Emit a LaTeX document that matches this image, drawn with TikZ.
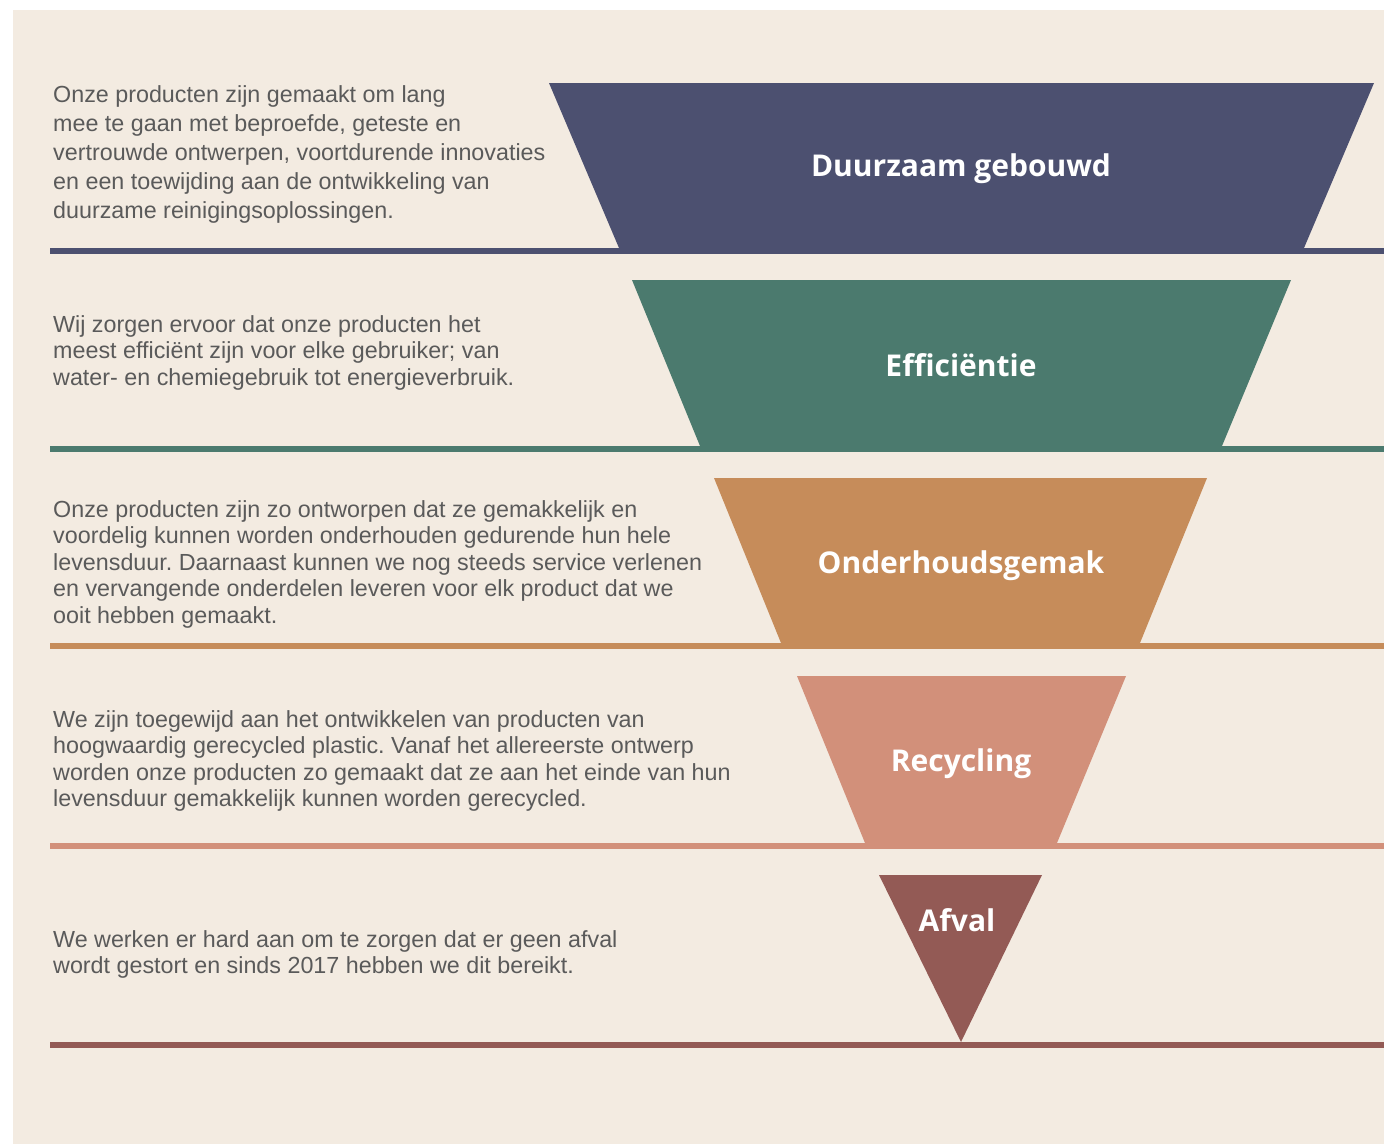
\documentclass[tikz,border=0pt]{standalone}
\usepackage{fontspec}
\setmainfont{Liberation Sans}
\newfontfamily\titlefont{Open Sans}
\frenchspacing
\definecolor{paper}{HTML}{F3EBE1}
\definecolor{bodytext}{HTML}{5A5A5A}
\definecolor{bandA}{HTML}{4C5070}
\definecolor{bandB}{HTML}{4B7A6E}
\definecolor{bandC}{HTML}{C68C5A}
\definecolor{bandD}{HTML}{D2907A}
\definecolor{bandE}{HTML}{935A55}

\begin{document}
\begin{tikzpicture}[x=1pt,y=-1pt,
    title/.style={text=white,anchor=base,font=\titlefont\bfseries\fontsize{30}{34}\selectfont,inner sep=0pt},
    desc/.style={text=bodytext,anchor=north west,align=left,inner sep=0pt,font=\fontsize{23.3}{26.6}\selectfont},
    rule/.style={line width=6pt}]
                \useasboundingbox (0,0) rectangle (1384,1144);
                \fill[white] (0,0) rectangle (1384,1144);
                \fill[paper] (13,10) rectangle (1384,1144);
                % funnel bands
                \fill[bandA] (549,83)--(1374,83)--(1304,248)--(619,248)--cycle;
                \fill[bandB] (632,280)--(1291,280)--(1222,446)--(700,446)--cycle;
                \fill[bandC] (714,478)--(1207,478)--(1140,643)--(781,643)--cycle;
                \fill[bandD] (797,676)--(1126,676)--(1057,843)--(865,843)--cycle;
                \fill[bandE] (879,875)--(1042,875)--(961,1042)--cycle;
                % rules under each band
                \draw[rule,bandA] (50,251)--(1384,251);
                \draw[rule,bandB] (50,449)--(1384,449);
                \draw[rule,bandC] (50,645.5)--(1384,645.5);
                \draw[rule,bandD] (50,846)--(1384,846);
                \draw[rule,bandE] (50,1045)--(1384,1045);
                % titles
                \node[title] (duurzaam) at (961,176) {Duurzaam gebouwd};
                \node[title] (efficientie) at (961,376) {Efficiëntie};
                \node[title] (onderhoud) at (961,573) {Onderhoudsgemak};
                \node[title] (recycling) at (961,771) {Recycling};
                \node[title] (afval) at (957,931) {Afval};
                % descriptions
                \node[desc,font=\fontsize{23.3}{29}\selectfont] (duurzaamtxt) at (53,85) {Onze producten zijn gemaakt om lang\\mee te gaan met beproefde, geteste en\\vertrouwde ontwerpen, voortdurende innovaties\\en een toewijding aan de ontwikkeling van\\duurzame reinigingsoplossingen.};
                \node[desc] (efficientietxt) at (53,315) {Wij zorgen ervoor dat onze producten het\\meest efficiënt zijn voor elke gebruiker; van\\water- en chemiegebruik tot energieverbruik.};
                \node[desc] (onderhoudtxt) at (53,500) {Onze producten zijn zo ontworpen dat ze gemakkelijk en\\voordelig kunnen worden onderhouden gedurende hun hele\\levensduur. Daarnaast kunnen we nog steeds service verlenen\\en vervangende onderdelen leveren voor elk product dat we\\ooit hebben gemaakt.};
                \node[desc] (recyclingtxt) at (53,710) {We zijn toegewijd aan het ontwikkelen van producten van\\hoogwaardig gerecycled plastic. Vanaf het allereerste ontwerp\\worden onze producten zo gemaakt dat ze aan het einde van hun\\levensduur gemakkelijk kunnen worden gerecycled.};
                \node[desc] (afvaltxt) at (53,930) {We werken er hard aan om te zorgen dat er geen afval\\wordt gestort en sinds 2017 hebben we dit bereikt.};
            \end{tikzpicture}
\end{document}
